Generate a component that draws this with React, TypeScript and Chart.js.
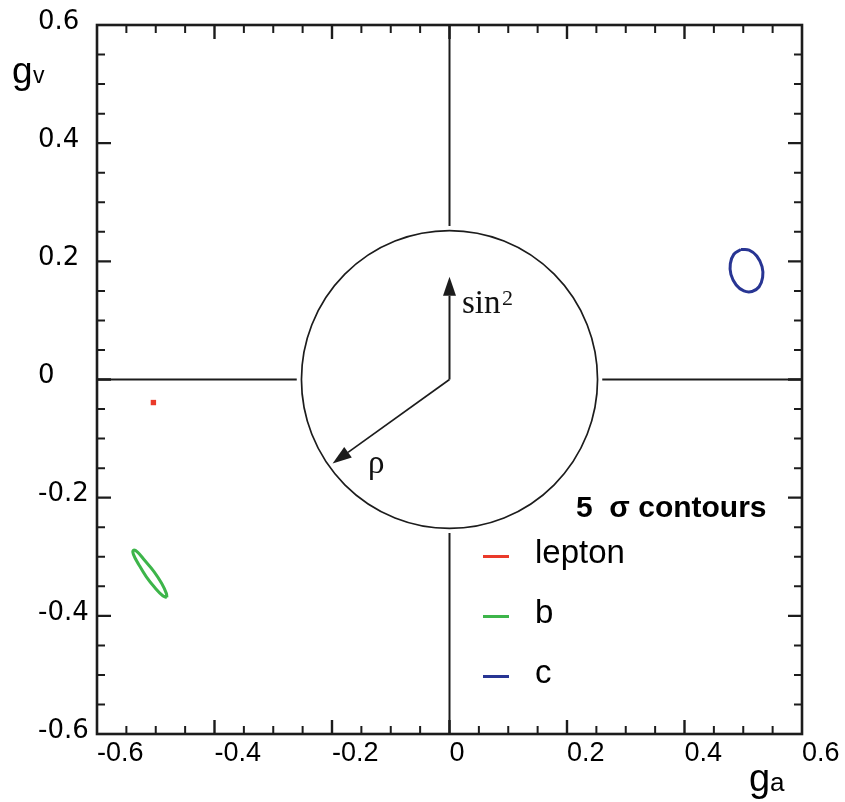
import React, { useEffect, useRef } from 'react';
import { Chart, registerables } from 'chart.js';

Chart.register(...registerables);

// ---- data ----
const xTickValues = [-0.6, -0.4, -0.2, 0, 0.2, 0.4, 0.6];
const xTickLabels = ['-0.6', '-0.4', '-0.2', '0', '0.2', '0.4', '0.6'];
const yTickValues = [-0.6, -0.4, -0.2, 0, 0.2, 0.4, 0.6];
const yTickLabels = ['-0.6', '-0.4', '-0.2', '0', '0.2', '0.4', '0.6'];

const seriesNames = ['lepton', 'b', 'c'];
const seriesColors = ['#ea3a2a', '#3db54a', '#283593'];

const leptonX = [-0.504];
const leptonY = [-0.039];

const bX = [-0.481, -0.482, -0.490, -0.503, -0.519, -0.531, -0.538, -0.538, -0.529, -0.516, -0.501, -0.488];
const bY = [-0.369, -0.362, -0.345, -0.325, -0.306, -0.292, -0.289, -0.296, -0.313, -0.334, -0.353, -0.366];

const cX = [0.496, 0.510, 0.523, 0.532, 0.533, 0.527, 0.515, 0.501, 0.488, 0.479, 0.478, 0.484];
const cY = [0.220, 0.219, 0.209, 0.191, 0.173, 0.157, 0.149, 0.150, 0.160, 0.178, 0.196, 0.212];

const legendTitle = '5  σ contours';
const circleRadius = 0.252;
const axisGap = 0.26;
const sinArrowTip = [0, 0.174];
const rhoArrowTip = [-0.199, -0.142];
const sinLabel = 'sin';
const sinSup = '2';
const rhoLabel = 'ρ';

const toPoints = (xs: number[], ys: number[]) => xs.map((x, i) => ({ x, y: ys[i] }));
const closed = (xs: number[], ys: number[]) => {
  const p = toPoints(xs, ys);
  return [...p, p[0]];
};

function drawArrow(ctx: CanvasRenderingContext2D, x1: number, y1: number, x2: number, y2: number) {
  const headLen = 19;
  const headHalf = 6.5;
  const ang = Math.atan2(y2 - y1, x2 - x1);
  const bx = x2 - headLen * Math.cos(ang);
  const by = y2 - headLen * Math.sin(ang);
  ctx.beginPath();
  ctx.moveTo(x1, y1);
  ctx.lineTo(bx, by);
  ctx.stroke();
  ctx.beginPath();
  ctx.moveTo(x2, y2);
  ctx.lineTo(bx + headHalf * Math.sin(ang), by - headHalf * Math.cos(ang));
  ctx.lineTo(bx - headHalf * Math.sin(ang), by + headHalf * Math.cos(ang));
  ctx.closePath();
  ctx.fill();
}

const decorPlugin = {
  id: 'decor',
  beforeDatasetsDraw(chart: any) {
    const { ctx, chartArea: a, scales } = chart;
    const xs = scales.x;
    const ys = scales.y;
    ctx.save();
    ctx.strokeStyle = '#1c1c1c';
    ctx.fillStyle = '#1c1c1c';
    ctx.lineCap = 'butt';

    // tick marks (inward, on all four sides)
    for (let i = -11; i <= 11; i++) {
      const v = i * 0.05;
      const major = i % 4 === 0;
      const len = major ? 14 : 8;
      ctx.lineWidth = major ? 2.4 : 2;
      const px = xs.getPixelForValue(v);
      ctx.beginPath();
      ctx.moveTo(px, a.bottom);
      ctx.lineTo(px, a.bottom - len);
      ctx.moveTo(px, a.top);
      ctx.lineTo(px, a.top + len);
      ctx.stroke();
      const py = ys.getPixelForValue(v);
      ctx.beginPath();
      ctx.moveTo(a.left, py);
      ctx.lineTo(a.left + len, py);
      ctx.moveTo(a.right, py);
      ctx.lineTo(a.right - len, py);
      ctx.stroke();
    }

    // cross axes through the origin, interrupted by the circle
    const x0 = xs.getPixelForValue(0);
    const y0 = ys.getPixelForValue(0);
    ctx.lineWidth = 2;
    ctx.beginPath();
    ctx.moveTo(a.left, y0);
    ctx.lineTo(xs.getPixelForValue(-axisGap), y0);
    ctx.moveTo(xs.getPixelForValue(axisGap), y0);
    ctx.lineTo(a.right, y0);
    ctx.moveTo(x0, a.top);
    ctx.lineTo(x0, ys.getPixelForValue(axisGap));
    ctx.moveTo(x0, ys.getPixelForValue(-axisGap));
    ctx.lineTo(x0, a.bottom);
    ctx.stroke();

    // circle
    ctx.lineWidth = 1.7;
    ctx.beginPath();
    ctx.ellipse(
      x0,
      y0,
      xs.getPixelForValue(circleRadius) - x0,
      y0 - ys.getPixelForValue(circleRadius),
      0,
      0,
      Math.PI * 2
    );
    ctx.stroke();

    // arrows
    ctx.lineWidth = 2;
    drawArrow(ctx, x0, y0, xs.getPixelForValue(sinArrowTip[0]), ys.getPixelForValue(sinArrowTip[1]));
    ctx.lineWidth = 1.7;
    drawArrow(ctx, x0, y0, xs.getPixelForValue(rhoArrowTip[0]), ys.getPixelForValue(rhoArrowTip[1]));

    // frame
    ctx.lineWidth = 2.6;
    ctx.strokeRect(a.left, a.top, a.right - a.left, a.bottom - a.top);
    ctx.restore();
  },
  afterDraw(chart: any) {
    const { ctx } = chart;
    ctx.save();
    ctx.fillStyle = '#111';
    ctx.textBaseline = 'alphabetic';
    ctx.textAlign = 'left';

    // annotations in the circle
    ctx.font = '33px "Liberation Serif", "DejaVu Serif", serif';
    ctx.fillText(sinLabel, 462, 313);
    ctx.fillText(rhoLabel, 368, 473);
    ctx.font = '22px "Liberation Serif", "DejaVu Serif", serif';
    ctx.fillText(sinSup, 502, 305);

    // axis titles
    ctx.fillStyle = '#000';
    ctx.font = '37px "Liberation Sans", Arial, sans-serif';
    ctx.fillText('g', 12, 83);
    ctx.font = '23px "Liberation Sans", Arial, sans-serif';
    ctx.fillText('v', 33, 83);
    ctx.font = '38px "Liberation Sans", Arial, sans-serif';
    ctx.fillText('g', 749, 791);
    ctx.font = '26px "Liberation Sans", Arial, sans-serif';
    ctx.fillText('a', 770, 791);

    // legend
    ctx.font = 'bold 30px "Liberation Sans", Arial, sans-serif';
    ctx.fillText(legendTitle, 576, 517);
    const rows = [563, 623, 683];
    chart.data.datasets.forEach((ds: any, i: number) => {
      const base = rows[i];
      ctx.strokeStyle = ds.borderColor;
      ctx.lineWidth = 3;
      ctx.beginPath();
      ctx.moveTo(483, base - 6.5);
      ctx.lineTo(509, base - 6.5);
      ctx.stroke();
      ctx.fillStyle = '#000';
      ctx.font = '33px "Liberation Sans", Arial, sans-serif';
      ctx.fillText(ds.label, 535, base);
    });
    ctx.restore();
  },
};

export default function App() {
  const ref = useRef<HTMLCanvasElement | null>(null);

  useEffect(() => {
    if (!ref.current) return;
    const chart = new Chart(ref.current, {
      type: 'scatter',
      data: {
        datasets: [
          {
            label: seriesNames[0],
            data: toPoints(leptonX, leptonY),
            borderColor: seriesColors[0],
            backgroundColor: seriesColors[0],
            pointStyle: 'rect',
            pointRadius: 3.8,
            pointBorderWidth: 0,
            showLine: false,
          },
          {
            label: seriesNames[1],
            data: closed(bX, bY),
            borderColor: seriesColors[1],
            backgroundColor: seriesColors[1],
            showLine: true,
            pointRadius: 0,
            borderWidth: 3,
            tension: 0.4,
          },
          {
            label: seriesNames[2],
            data: closed(cX, cY),
            borderColor: seriesColors[2],
            backgroundColor: seriesColors[2],
            showLine: true,
            pointRadius: 0,
            borderWidth: 3,
            tension: 0.4,
          },
        ],
      },
      options: {
        animation: false,
        responsive: false,
        devicePixelRatio: 1,
        layout: { padding: { left: 38, right: 43, top: 25, bottom: 0 } },
        plugins: {
          legend: { display: false },
          tooltip: { enabled: false },
          title: { display: false },
        },
        scales: {
          x: {
            type: 'linear',
            min: -0.6,
            max: 0.6,
            afterBuildTicks: (scale: any) => {
              scale.ticks = xTickValues.map((v) => ({ value: v }));
            },
            afterFit: (scale: any) => {
              scale.height = 68;
            },
            grid: { display: false, drawTicks: false },
            border: { display: false },
            ticks: {
              align: 'start',
              padding: 3,
              color: '#000',
              maxRotation: 0,
              autoSkip: false,
              font: { family: '"Liberation Sans", Arial, sans-serif', size: 27 },
              callback: (_v: any, i: number) => xTickLabels[i],
            },
          },
          y: {
            type: 'linear',
            min: -0.6,
            max: 0.6,
            afterBuildTicks: (scale: any) => {
              scale.ticks = yTickValues.map((v) => ({ value: v }));
            },
            afterFit: (scale: any) => {
              scale.width = 59;
            },
            grid: { display: false, drawTicks: false },
            border: { display: false },
            ticks: {
              crossAlign: 'far',
              labelOffset: -3,
              color: '#000',
              autoSkip: false,
              font: { family: '"DejaVu Sans", sans-serif', size: 26 },
              callback: (_v: any, i: number) => yTickLabels[i],
            },
          },
        },
      },
      plugins: [decorPlugin],
    } as any);
    return () => chart.destroy();
  }, []);

  return (
    <div style={{ position: 'absolute', left: 0, top: 0, width: 845, height: 802, background: '#fff' }}>
      <canvas ref={ref} width={845} height={802} />
    </div>
  );
}
